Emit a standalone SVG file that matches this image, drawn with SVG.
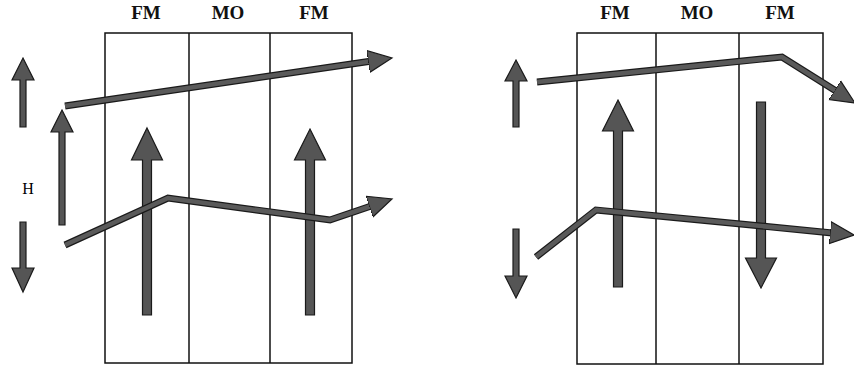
<svg xmlns="http://www.w3.org/2000/svg" width="854" height="370" viewBox="0 0 854 370">
<style>
.box{fill:none;stroke:#111;stroke-width:1.5}
.lbl{font-family:"Liberation Serif","Times New Roman",serif;font-weight:bold;font-size:19px;fill:#111;text-anchor:middle}
.h{font-family:"Liberation Serif","Times New Roman",serif;font-size:16px;fill:#000;text-anchor:middle}
.arr{fill:#555;stroke:#1a1a1a;stroke-width:1.2;stroke-linejoin:miter}
.pout{fill:none;stroke:#1a1a1a;stroke-width:7;stroke-linejoin:miter}
.pin{fill:none;stroke:#5a5a5a;stroke-width:4.6;stroke-linejoin:miter}
</style>
<defs>
<marker id="ah" viewBox="0 -12 26 24" refX="2" refY="0" markerWidth="26" markerHeight="24" markerUnits="userSpaceOnUse" orient="auto">
<path d="M0,-11 L24,0 L0,11 Z" fill="#555" stroke="#1a1a1a" stroke-width="1.2"/>
</marker>
</defs>
<g id="left-panel">
<g id="left-box">
<rect class="box" x="105" y="33" width="247" height="330"/>
<line class="box" x1="189" y1="33" x2="189" y2="363"/>
<line class="box" x1="270" y1="33" x2="270" y2="363"/>
</g>
<g id="left-labels">
<text class="lbl" x="146" y="19">FM</text>
<text class="lbl" x="228" y="19">MO</text>
<text class="lbl" x="314" y="19">FM</text>
<text class="h" x="28" y="194">H</text>
</g>
<g id="left-vertical-arrows">
<polygon class="arr" points="23,58 34,80 26,80 26,127 20,127 20,80 12,80"/>
<polygon class="arr" points="62,110 73,132 65,132 65,225 59,225 59,132 51,132"/>
<polygon class="arr" points="23,292 34,268 26,268 26,222 20,222 20,268 12,268"/>
<polygon class="arr" points="147,128 162.5,160 151.5,160 151.5,315 142.5,315 142.5,160 131.5,160"/>
<polygon class="arr" points="310,129 325.5,160 314.5,160 314.5,315 305.5,315 305.5,160 294.5,160"/>
</g>
</g>
<g id="right-panel">
<g id="right-box">
<rect class="box" x="577" y="33" width="246" height="331"/>
<line class="box" x1="656" y1="33" x2="656" y2="364"/>
<line class="box" x1="739" y1="33" x2="739" y2="364"/>
</g>
<g id="right-labels">
<text class="lbl" x="615" y="19">FM</text>
<text class="lbl" x="697" y="19">MO</text>
<text class="lbl" x="780" y="19">FM</text>
</g>
<g id="right-vertical-arrows">
<polygon class="arr" points="516,60 527,81 519,81 519,127 513,127 513,81 505,81"/>
<polygon class="arr" points="516,298 527,276 519,276 519,229 513,229 513,276 505,276"/>
<polygon class="arr" points="618,100 633.5,131 622.5,131 622.5,287 613.5,287 613.5,131 602.5,131"/>
<polygon class="arr" points="761,288 776.5,258 765.5,258 765.5,102 756.5,102 756.5,258 745.5,258"/>
</g>
</g>
<g id="connectors">
<polyline class="pout" points="65,106 370.2,61.2"/>
<polyline class="pin" points="65,106 370.2,61.2" marker-end="url(#ah)"/>
<polyline class="pout" points="65,245 168,198 330,220 371.2,206"/>
<polyline class="pin" points="65,245 168,198 330,220 371.2,206" marker-end="url(#ah)"/>
<polyline class="pout" points="537,82 782,57 836.4,91.3"/>
<polyline class="pin" points="537,82 782,57 836.4,91.3" marker-end="url(#ah)"/>
<polyline class="pout" points="536,257 596,210 832.1,232.9"/>
<polyline class="pin" points="536,257 596,210 832.1,232.9" marker-end="url(#ah)"/>
</g>
</svg>
